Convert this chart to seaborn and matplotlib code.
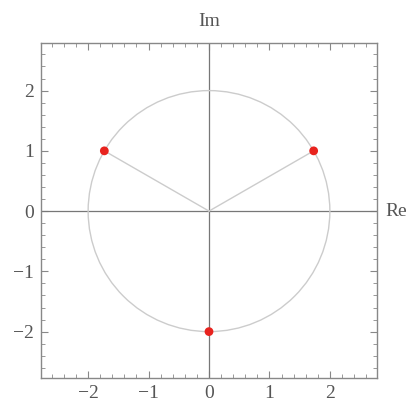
import matplotlib
matplotlib.use("Agg")
import matplotlib.pyplot as plt
import seaborn as sns
import numpy as np
import pandas as pd
from matplotlib.patches import Circle
from matplotlib.ticker import MultipleLocator

sns.set_style("ticks")
plt.rcParams['font.family'] = ['Liberation Serif', 'DejaVu Serif']

# cube roots shown on the plot
roots_re = [1.732, -1.732, 0.0]
roots_im = [1.0, 1.0, -2.0]
radius = 2.0
ticks = [-2, -1, 0, 1, 2]

df = pd.DataFrame({"re": roots_re, "im": roots_im})

fig = plt.figure(figsize=(4.13, 4.03), dpi=100)
ax = fig.add_axes([41/413, 1-378/403, 336/413, 335/403])

grey = "#555555"
ax.axhline(0, color="#777777", lw=0.9, zorder=1)
ax.axvline(0, color="#777777", lw=0.9, zorder=1)

ax.add_patch(Circle((0, 0), radius, fill=False, ec="#cccccc", lw=1.0, zorder=2))

# spokes from origin to the two upper roots
for r, i in zip(roots_re[:2], roots_im[:2]):
    ax.plot([0, r], [0, i], color="#cccccc", lw=1.0, zorder=2)

sns.scatterplot(data=df, x="re", y="im", color="#e8231e", s=40, edgecolor="none",
                zorder=3, ax=ax)

ax.set_xlim(-2.78, 2.78)
ax.set_ylim(-2.77, 2.79)
ax.set_xticks(ticks)
ax.set_yticks(ticks)
ax.set_xticklabels(["\u22122", "\u22121", "0", "1", "2"])
ax.set_yticklabels(["\u22122", "\u22121", "0", "1", "2"])
ax.xaxis.set_minor_locator(MultipleLocator(0.2))
ax.yaxis.set_minor_locator(MultipleLocator(0.2))
ax.tick_params(which="both", direction="in", top=True, right=True, color="#888888",
               labelcolor=grey, labelsize=14)
ax.tick_params(which="major", length=5, width=0.8, pad=5)
ax.tick_params(which="minor", length=3, width=0.6)
ax.set_xlabel("")
ax.set_ylabel("")
for s in ax.spines.values():
    s.set_color("#888888")
    s.set_linewidth(1.0)

ax.text(0, 1.04, "Im", transform=ax.get_xaxis_transform(), ha="center", va="bottom",
        fontsize=14, color=grey)
ax.text(1.025, 0, "Re", transform=ax.get_yaxis_transform(), ha="left", va="center",
        fontsize=14, color=grey)

fig.savefig("out.png", dpi=100)
